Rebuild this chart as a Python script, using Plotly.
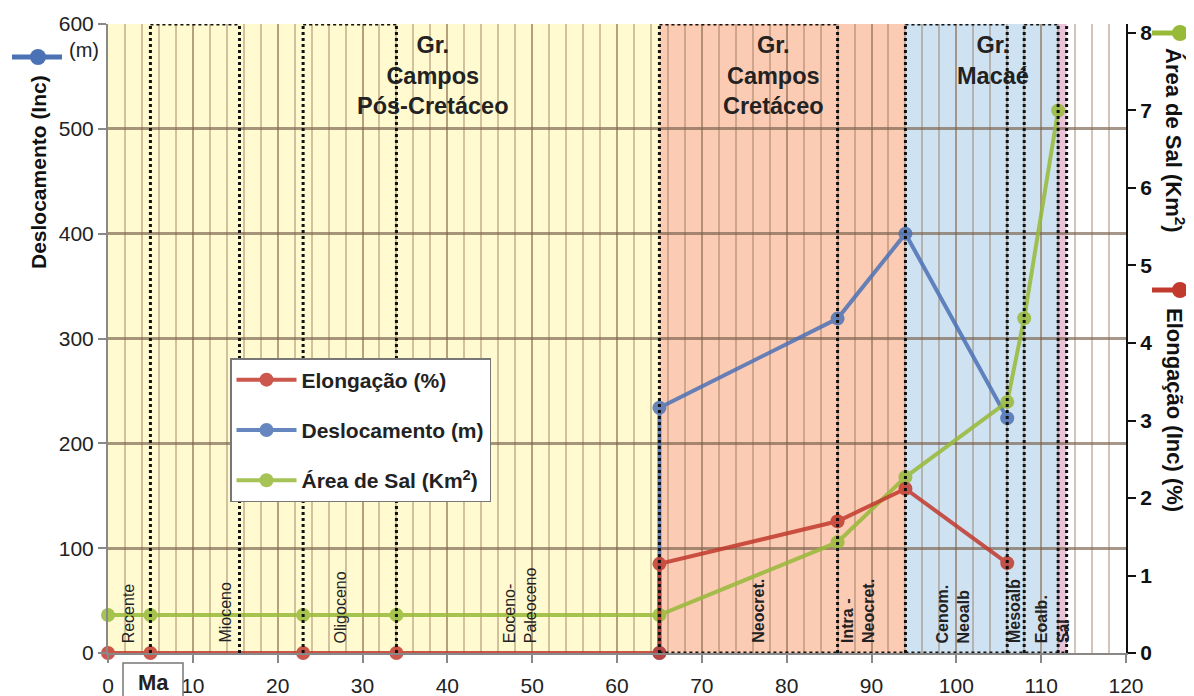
import plotly.graph_objects as go

# ---------------- data ----------------
elong_x = [0, 5, 23, 34, 65, 65, 86, 94, 106]
elong_y = [0, 0, 0, 0, 0, 1.15, 1.70, 2.12, 1.16]          # right axis (%)

desloc_x = [65, 65, 86, 94, 106]
desloc_y = [0, 234, 319, 400, 224]                          # left axis (m)

sal_x = [0, 5, 23, 34, 65, 86, 94, 106, 108, 112]
sal_y = [0.49, 0.49, 0.49, 0.49, 0.49, 1.43, 2.27, 3.24, 4.32, 7.0]  # right axis (Km2)

# background bands (Ma)
band_edges = [(0, 65), (65, 94), (94, 112), (112, 113)]
band_colors = ["#FFFAD0", "#FCCBB4", "#CFE2F1", "#E9C4D8"]

# dotted stage boundaries (Ma)
stage_bounds = [5, 15.5, 23, 34, 65, 86, 94, 106, 108, 112, 113]
dotted_tops = [(5, 15.5), (23, 34), (65, 86), (94, 106), (108, 112)]

stage_labels = ["Recente", "Mioceno", "Oligoceno", "Eoceno-<br>Paleoceno", "Neocret.",
                "Intra -<br>Neocret.", "Cenom.<br>Neoalb", "Mesoalb", "Eoalb.", "Sal"]
stage_label_x = [2.4, 13.8, 27.4, 48.6, 76.6, 88.4, 99.6, 106.8, 110.0, 112.6]
stage_label_bold = [False, False, False, False, True, True, True, True, True, True]

group_labels = ["Gr.<br>Campos<br>Pós-Cretáceo", "Gr.<br>Campos<br>Cretáceo", "Gr.<br>Macaé"]
group_label_x = [38.3, 78.5, 104.3]

x_ticks = list(range(0, 121, 10))
left_ticks = list(range(0, 601, 100))
right_ticks = list(range(0, 9))

RED = "#C23A2E"
BLUE = "#4C72B6"
GREEN = "#97BA38"
FONT = "Liberation Sans"

fig = go.Figure()

fig.add_trace(go.Scatter(
    x=desloc_x, y=desloc_y, name="Deslocamento (m)", mode="lines+markers",
    line=dict(color=BLUE, width=4), marker=dict(color=BLUE, size=14),
    opacity=0.85, cliponaxis=False, legendgroup="b", legendrank=2, yaxis="y"))
fig.add_trace(go.Scatter(
    x=sal_x, y=sal_y, name="Área de Sal (Km<sup>2</sup>)", mode="lines+markers",
    line=dict(color=GREEN, width=4), marker=dict(color=GREEN, size=14),
    opacity=0.85, cliponaxis=False, legendgroup="g", legendrank=3, yaxis="y2"))
fig.add_trace(go.Scatter(
    x=elong_x, y=elong_y, name="Elongação (%)", mode="lines+markers",
    line=dict(color=RED, width=4), marker=dict(color=RED, size=14),
    opacity=0.85, cliponaxis=False, legendgroup="r", legendrank=1, yaxis="y2"))

shapes = []
for (a, b), c in zip(band_edges, band_colors):
    shapes.append(dict(type="rect", xref="x", yref="paper", x0=a, x1=b, y0=0, y1=1,
                       fillcolor=c, line=dict(width=0), layer="below"))
for xb in stage_bounds:
    shapes.append(dict(type="line", xref="x", yref="y", x0=xb, x1=xb, y0=0, y1=600,
                       line=dict(color="#111", width=3, dash="dot"), layer="above"))
for a, b in dotted_tops:
    shapes.append(dict(type="line", xref="x", yref="y", x0=a, x1=b, y0=600, y1=600,
                       line=dict(color="#111", width=3, dash="dot"), layer="above"))
shapes.append(dict(type="line", xref="x", yref="y", x0=65, x1=113, y0=0, y1=0,
                   line=dict(color="#111", width=3, dash="dot"), layer="above"))


# pixel (screen) -> paper helpers; plot area spans x 108..1126, y 24..653 on screen
def px(xp):
    return (xp - 108) / 1018.0


def py(yp):
    return (653 - yp) / 629.0


# "Ma" box
shapes.append(dict(type="rect", xref="paper", yref="paper", x0=px(123), x1=px(183),
                   y0=py(705), y1=py(663), fillcolor="white", line=dict(color="#777", width=1.5)))

# decorative series keys beside axis titles
for (x0, x1, xc, yc, col) in [(12, 62, 38, 57, BLUE), (1152, 1205, 1180, 33, GREEN),
                              (1152, 1205, 1180, 290, RED)]:
    shapes.append(dict(type="line", xref="paper", yref="paper", x0=px(x0), x1=px(x1),
                       y0=py(yc), y1=py(yc), line=dict(color=col, width=5)))
    shapes.append(dict(type="circle", xref="paper", yref="paper", x0=px(xc - 8), x1=px(xc + 8),
                       y0=py(yc + 8), y1=py(yc - 8), fillcolor=col, line=dict(width=0)))

annotations = []
for lab, xl, bold in zip(stage_labels, stage_label_x, stage_label_bold):
    annotations.append(dict(x=xl, y=0, xref="x", yref="y", text=lab, showarrow=False,
                            textangle=-90, xanchor="center", yanchor="bottom", yshift=8,
                            align="left",
                            font=dict(family=FONT, size=16, color="#222",
                                      weight="bold" if bold else "normal")))
for lab, xl in zip(group_labels, group_label_x):
    annotations.append(dict(x=xl, y=600, xref="x", yref="y", text=lab, showarrow=False,
                            xanchor="center", yanchor="top", yshift=-6, align="center",
                            font=dict(family=FONT, size=23.5, color="#222", weight="bold")))


def side_note(text, xp, yp, size, angle=0, bold=True, color="#111"):
    return dict(x=px(xp), y=py(yp), xref="paper", yref="paper", text=text,
                showarrow=False, textangle=angle, xanchor="center", yanchor="middle",
                font=dict(family=FONT, size=size, color=color,
                          weight="bold" if bold else "normal"))


annotations.append(side_note("Deslocamento (Inc)", 38, 172, 21, angle=-90))
annotations.append(side_note("(m)", 84, 50, 20, bold=False, color="#222"))
annotations.append(side_note("Área de Sal (Km<sup>2</sup>)", 1175, 140, 22, angle=90))
annotations.append(side_note("Elongação (Inc) (%)", 1175, 410, 22, angle=90))
annotations.append(side_note("Ma", 153, 682, 22, color="#222"))

fig.update_layout(
    width=1194, height=696,
    # the page body adds an 8px offset, so margins are shifted by 8px
    margin=dict(l=100, r=76, t=16, b=51, autoexpand=False),
    paper_bgcolor="white", plot_bgcolor="white",
    font=dict(family=FONT, color="#222"),
    shapes=shapes, annotations=annotations,
    legend=dict(x=px(230), y=py(358), xanchor="left", yanchor="top",
                bgcolor="white", bordercolor="#777", borderwidth=1.5,
                font=dict(family=FONT, size=21, color="#222", weight="bold"),
                traceorder="grouped", tracegroupgap=20, itemwidth=60),
    xaxis=dict(range=[0, 120], tickvals=x_ticks, showgrid=True, automargin=False,
               gridcolor="rgba(140,110,80,0.40)", gridwidth=2,
               minor=dict(dtick=2, showgrid=True, gridcolor="rgba(140,110,80,0.40)", gridwidth=2),
               showline=True, linecolor="#888", linewidth=2,
               ticks="outside", ticklen=8, tickcolor="#888", tickwidth=2,
               ticklabelstandoff=5,
               tickfont=dict(family=FONT, size=21, color="#222"), zeroline=False),
    yaxis=dict(range=[0, 600], tickvals=left_ticks, showgrid=True, automargin=False,
               gridcolor="rgba(120,95,75,0.65)", gridwidth=2.5,
               showline=True, linecolor="#888", linewidth=2,
               ticks="outside", ticklen=8, tickcolor="#888", tickwidth=2,
               tickfont=dict(family=FONT, size=21, color="#222"), zeroline=False),
    yaxis2=dict(range=[0, 8.116], tickvals=right_ticks, overlaying="y", side="right",
                showgrid=False, showline=True, linecolor="#111", linewidth=2, automargin=False,
                ticks="outside", ticklen=8, tickcolor="#111", tickwidth=2,
                tickfont=dict(family=FONT, size=21, color="#111", weight="bold"),
                zeroline=False),
)

fig.write_html("out.html")
